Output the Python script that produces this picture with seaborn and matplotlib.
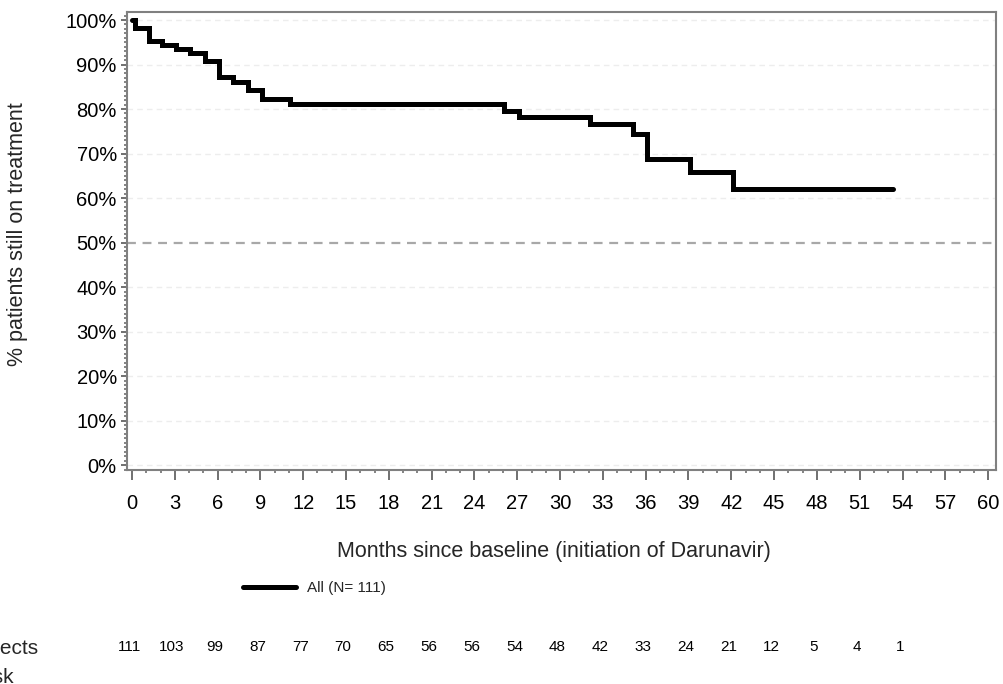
import numpy as np
import pandas as pd
import matplotlib
matplotlib.use("Agg")
import matplotlib.pyplot as plt
from matplotlib.ticker import MultipleLocator, PercentFormatter
from matplotlib.transforms import blended_transform_factory
import seaborn as sns

# Kaplan-Meier estimate of patients remaining on darunavir
months = [0, 0.2, 1.2, 2.1, 3.1, 4.1, 5.1, 6.1, 7.1, 8.1, 9.1, 11.1,
          26.1, 27.1, 32.1, 35.1, 36.1, 39.1, 42.1, 53.3]
pct_on_treatment = [100, 98.2, 95.2, 94.4, 93.5, 92.6, 90.8, 87.1, 86.0, 84.2,
                    82.3, 81.1, 79.6, 78.2, 76.6, 74.4, 68.8, 65.8, 62.1, 62.1]

# Number of subjects at risk every 3 months
risk_months = [0, 3, 6, 9, 12, 15, 18, 21, 24, 27, 30, 33, 36, 39, 42, 45, 48, 51, 54]
at_risk = [111, 103, 99, 87, 77, 70, 65, 56, 56, 54, 48, 42, 33, 24, 21, 12, 5, 4, 1]

x_ticks = list(range(0, 61, 3))
series_label = "All (N= 111)"

sns.set_theme(style="white")
plt.rcParams["font.family"] = ["Liberation Sans", "DejaVu Sans"]

W, H = 1004, 684
fig = plt.figure(figsize=(W / 100, H / 100), dpi=100)
ax = fig.add_axes([127 / W, 1 - 470 / H, (996 - 127) / W, (470 - 12) / H])

df = pd.DataFrame({"month": months, "pct": pct_on_treatment})

# light reference grid and 50% line
for yv in range(0, 101, 10):
    if yv == 50:
        continue
    ax.axhline(yv, color="#ededed", lw=1.0, ls=(0, (4, 3)), zorder=0)
ax.axhline(50, color="#a8a8a8", lw=1.6, ls=(0, (4, 3)), zorder=1)

sns.lineplot(data=df, x="month", y="pct", drawstyle="steps-post", color="black",
             lw=3.6, estimator=None, label=series_label, ax=ax, zorder=3,
             solid_joinstyle="miter", legend=False)

ax.set_xlim(-0.35, 60.55)
ax.set_ylim(-1.1, 101.8)
ax.set_xticks(x_ticks)
ax.xaxis.set_minor_locator(MultipleLocator(1))
ax.yaxis.set_major_locator(MultipleLocator(10))
ax.yaxis.set_minor_locator(MultipleLocator(1))
ax.yaxis.set_major_formatter(PercentFormatter(decimals=0))

for side in ax.spines.values():
    side.set_color("#808080")
    side.set_linewidth(1.5)

ax.tick_params(axis="x", which="major", direction="out", length=7.2, width=1.4,
               color="#707070", labelsize=14.5, labelcolor="black", pad=10,
               bottom=True, top=False)
ax.tick_params(axis="x", which="minor", direction="out", length=2.5, width=1.2,
               color="#707070", bottom=True, top=False)
ax.tick_params(axis="y", which="major", direction="out", length=4.3, width=1.4,
               color="#707070", labelsize=14.5, labelcolor="black", pad=3,
               left=True, right=False)
ax.tick_params(axis="y", which="minor", direction="out", length=2, width=1.2,
               color="#707070", left=True, right=False)

ax.set_xlabel("")
ax.set_ylabel("")
fig.text(554 / W, 1 - 552 / H, "Months since baseline (initiation of Darunavir)",
         ha="center", va="center", fontsize=15.5)
fig.text(18 / W, 1 - 234 / H, "% patients still on treatment", rotation=90,
         ha="center", va="center", fontsize=15.5)

handle = ax.get_lines()[-1]
leg = fig.legend([handle], [series_label], loc="center left",
                 bbox_to_anchor=(243 / W, 1 - 588 / H), bbox_transform=fig.transFigure,
                 frameon=False, fontsize=11, handlelength=3.5, handletextpad=0.7,
                 borderpad=0, borderaxespad=0)
for h in leg.get_lines():
    h.set_linewidth(3.6)

# numbers at risk row
trans = blended_transform_factory(ax.transData, fig.transFigure)
for m, n in zip(risk_months, at_risk):
    ax.text(m - 0.2, 1 - 647 / H, str(n), transform=trans, ha="center", va="center",
            fontsize=11, color="black", clip_on=False)

fig.text(-42 / W, 1 - 654 / H, "Subjects", ha="left", va="baseline", fontsize=15)
fig.text(-42 / W, 1 - 683 / H, "at risk", ha="left", va="baseline", fontsize=15)

fig.savefig("out.png", dpi=100)
